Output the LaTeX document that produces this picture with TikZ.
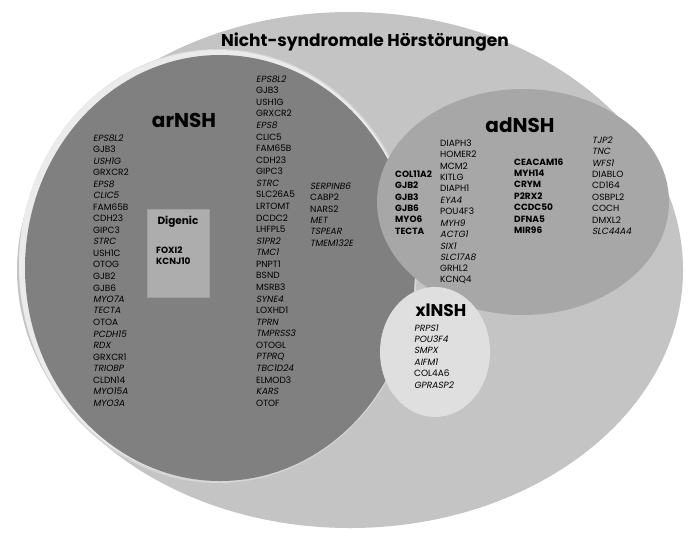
\documentclass[tikz,border=0pt]{standalone}
\usepackage{fontspec}
\setmainfont{Poppins}[AutoFakeSlant=0.18]
\usetikzlibrary{shapes.geometric}
\definecolor{outerc}{gray}{0.77}
\definecolor{rimc}{gray}{0.84}
\definecolor{hic}{gray}{0.92}
\definecolor{arc}{gray}{0.50}
\definecolor{adc}{gray}{0.655}
\definecolor{xlc}{gray}{0.875}
\definecolor{digc}{gray}{0.68}
\begin{document}
\begin{tikzpicture}[x=1pt,y=-1pt,
  blob/.style={ellipse, inner sep=0pt, outer sep=0pt, draw=none},
  heading/.style={inner sep=0pt, font=\fontsize{20}{22}\selectfont\bfseries},
  gene/.style={inner sep=0pt, anchor=west, font=\fontsize{9}{10}\selectfont},
  bgene/.style={gene, font=\fontsize{9}{10}\selectfont\bfseries\itshape}]
\useasboundingbox (0,0) rectangle (700,536);
\fill[white] (0,0) rectangle (700,536);
% circles
\node[blob, fill=outerc, minimum width=666pt, minimum height=516pt] (nsh) at (350,270) {};
\node[blob, fill=rimc, minimum width=398pt, minimum height=434pt] (rim) at (218,266) {};
\node[blob, fill=hic, minimum width=396pt, minimum height=430pt] (hi) at (217,265) {};
\node[blob, fill=arc, minimum width=390pt, minimum height=426pt] (ar) at (220,268) {};
\node[blob, fill=adc, minimum width=292pt, minimum height=226pt] (ad) at (523,202) {};
\node[blob, fill=xlc, minimum width=110pt, minimum height=130pt] (xl) at (435,352) {};
\node[fill=digc, draw=gray!75, line width=0.6pt, minimum width=62pt, minimum height=88pt, inner sep=0pt] (dig) at (178,253) {};
% headings
\node[heading, font=\fontsize{17}{20}\selectfont\bfseries] (titel) at (365,42) {Nicht-syndromale Hörstörungen};
\node[heading] (tar) at (184,120) {arNSH};
\node[heading] (tad) at (520,125) {adNSH};
\node[heading, font=\fontsize{17}{20}\selectfont\bfseries] (txl) at (441,310) {xlNSH};
\node[heading, font=\fontsize{10.5}{12}\selectfont\bfseries] (tdig) at (178,222) {Digenic};
% Digenic
\foreach \g [count=\i from 0] in {FOXI2,KCNJ10}
  \node[bgene] (dg\i) at (156,250+11.2*\i) {\g};
% arNSH column 1
\foreach \g [count=\i from 0] in {{\itshape EPS8L2},GJB3,{\itshape USH1G},GRXCR2,{\itshape EPS8},{\itshape CLIC5},FAM65B,CDH23,GIPC3,{\itshape STRC},USH1C,OTOG,GJB2,GJB6,{\itshape MYO7A},{\itshape TECTA},OTOA,{\itshape PCDH15},{\itshape RDX},GRXCR1,{\itshape TRIOBP},CLDN14,{\itshape MYO15A},{\itshape MYO3A}}
  \node[gene] (arA\i) at (93,138+11.52*\i) {\g};
% arNSH column 2
\foreach \g [count=\i from 0] in {{\itshape EPS8L2},GJB3,USH1G,GRXCR2,{\itshape EPS8},CLIC5,FAM65B,CDH23,GIPC3,{\itshape STRC},SLC26A5,LRTOMT,DCDC2,LHFPL5,{\itshape S1PR2},{\itshape TMC1},PNPT1,BSND,MSRB3,{\itshape SYNE4},LOXHD1,{\itshape TPRN},{\itshape TMPRSS3},OTOGL,{\itshape PTPRQ},{\itshape TBC1D24},ELMOD3,{\itshape KARS},OTOF}
  \node[gene] (arB\i) at (256,79+11.57*\i) {\g};
% arNSH column 3
\foreach \g [count=\i from 0] in {{\itshape SERPINB6},CABP2,NARS2,{\itshape MET},{\itshape TSPEAR},{\itshape TMEM132E}}
  \node[gene] (arC\i) at (310,186+11.4*\i) {\g};
% adNSH column 1
\foreach \g [count=\i from 0] in {COL11A2,GJB2,GJB3,GJB6,MYO6,TECTA}
  \node[bgene] (adA\i) at (395,174+11.4*\i) {\g};
% adNSH column 2
\foreach \g [count=\i from 0] in {DIAPH3,HOMER2,MCM2,KITLG,DIAPH1,{\itshape EYA4},POU4F3,{\itshape MYH9},{\itshape ACTG1},{\itshape SIX1},{\itshape SLC17A8},GRHL2,KCNQ4}
  \node[gene] (adB\i) at (440,143+11.42*\i) {\g};
% adNSH column 3
\foreach \g [count=\i from 0] in {CEACAM16,MYH14,CRYM,P2RX2,CCDC50,DFNA5,MIR96}
  \node[bgene] (adC\i) at (514,162+11.4*\i) {\g};
% adNSH column 4
\foreach \g [count=\i from 0] in {{\itshape TJP2},{\itshape TNC},{\itshape WFS1},DIABLO,CD164,OSBPL2,COCH,DMXL2,{\itshape SLC44A4}}
  \node[gene] (adD\i) at (592,140+11.4*\i) {\g};
% xlNSH
\foreach \g [count=\i from 0] in {{\itshape PRPS1},{\itshape POU3F4},{\itshape SMPX},{\itshape AIFM1},COL4A6,{\itshape GPRASP2}}
  \node[gene] (xl\i) at (414,328+11.4*\i) {\g};
\end{tikzpicture}
\end{document}
